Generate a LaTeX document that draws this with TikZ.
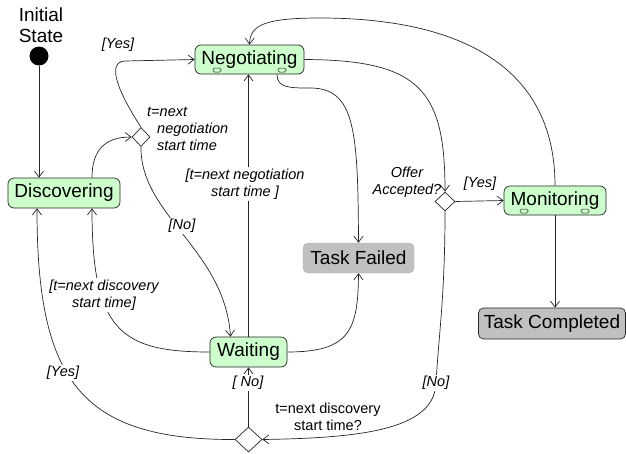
\documentclass[tikz,border=0pt]{standalone}
\usepackage{fontspec}
\setmainfont{Liberation Sans}
\usetikzlibrary{arrows.meta,shapes.geometric}
\definecolor{stategreen}{HTML}{CCFFCC}
\definecolor{finalgray}{HTML}{C0C0C0}
\tikzset{
  statebox/.style={draw=black!85, line width=0.7pt, fill=stategreen, rounded corners=6pt,
    inner sep=0pt, font=\fontsize{19}{21}\selectfont},
  finalbox/.style={fill=finalgray, rounded corners=5pt, inner sep=0pt,
    font=\fontsize{19}{21}\selectfont},
  decision/.style={diamond, draw=black!85, line width=0.7pt, fill=white, inner sep=0pt},
  oval/.style={draw=black!85, line width=0.5pt, fill=stategreen, rounded corners=1.5pt,
    minimum width=8pt, minimum height=4pt, inner sep=0pt},
  flow/.style={draw=black!85, line width=0.7pt, -{Straight Barb[length=6pt,width=9pt]}},
  guard/.style={font=\fontsize{14.5}{17}\selectfont\itshape, inner sep=1pt},
  guardbg/.style={guard, fill=white},
}
\begin{document}
\begin{tikzpicture}[x=1pt,y=-1pt]
\useasboundingbox (0,0) rectangle (626,453);

% nodes
\node[font=\fontsize{19}{21}\selectfont, align=center] (initlabel) at (41,25) {Initial\\State};
\node[circle, fill=black, minimum size=19pt, inner sep=0pt] (init) at (39,56) {};

\node[statebox, minimum width=112pt, minimum height=30pt] (disc) at (64,193) {Discovering};
\node[statebox, minimum width=109pt, minimum height=29pt] (neg) at (249.5,59.5) {Negotiating};
\node[statebox, minimum width=102pt, minimum height=29pt] (mon) at (555,200.5) {Monitoring};
\node[statebox, minimum width=77pt, minimum height=30pt] (wait) at (248.5,352) {Waiting};
\node[finalbox, draw=black!30, minimum width=111pt, minimum height=30pt] (fail) at (358.5,258) {Task Failed};
\node[finalbox, draw=black!85, line width=0.7pt, minimum width=147pt, minimum height=31pt] (comp) at (552,323.5) {Task Completed};

\node[oval] (negA) at (217,70) {};
\node[oval] (negB) at (282,70) {};
\node[oval] (monA) at (524,211) {};
\node[oval] (monB) at (585,211) {};

\node[decision, minimum width=18pt, minimum height=19pt] (d1) at (141,137) {};
\node[decision, minimum width=20pt, minimum height=19pt] (d2) at (445,201.5) {};
\node[decision, minimum width=27pt, minimum height=25pt] (d3) at (248.5,439.5) {};

% connectors
\draw[flow] (init) -- (init |- disc.north);
\draw[flow] ([xshift=28pt]disc.north) .. controls (92,150) and (105,137) .. (d1.west);
\draw[flow] (d1.north) .. controls (120,95) and (105,62) .. (125,61) -- (neg.west);
\draw[flow] (d1.south) .. controls (140,215) and (225,250) .. ([xshift=-18pt]wait.north);
\draw[flow] (wait.north) -- (wait.north |- neg.south);
\draw[flow] (wait.west) .. controls (120,352) and (92,330) .. ([xshift=28pt]disc.south);
\draw[flow] (d3.west) .. controls (80,440) and (37,380) .. ([xshift=-27pt]disc.south);
\draw[flow] (d3.north) -- (wait.south);
\draw[flow] (d2.south) .. controls (445,300) and (438,340) .. (436,385)
   .. controls (432,430) and (360,438) .. (d3.east);
\draw[flow] (neg.east) .. controls (420,60) and (445,90) .. (d2.north);
\draw[flow] ([xshift=27.5pt]neg.south) .. controls (277,88) and (290,88) .. (310,88)
   .. controls (355,88) and (358,130) .. (fail.north);
\draw[flow] (wait.east) .. controls (350,352) and (358,330) .. (fail.south);
\draw[flow] (d2.east) -- (mon.west);
\draw[flow] (mon.north) .. controls (555,60) and (450,18) .. (320,18)
   .. controls (265,18) and (250,25) .. (neg.north);
\draw[flow] (mon.south) -- (mon.south |- comp.north);

% labels
\node[guard] (lyes1) at (118,45) {[Yes]};
\node[guard, align=left, anchor=north west] (lneg) at (146,106) {t=next\\\hspace{10pt}negotiation\\\hspace{10pt}start time};
\node[guardbg] (lno1) at (182,226) {[No]};
\node[guardbg, align=center, inner sep=2pt] (lnegt) at (245,184) {[t=next negotiation\\start time ]};
\node[guardbg, align=center, inner sep=2pt] (ldisc) at (104,295) {[t=next discovery\\start time]};
\node[guardbg] (lyes2) at (63,373) {[Yes]};
\node[guardbg] (lno2) at (248,383) {[ No]};
\node[guardbg] (lno3) at (436,383) {[No]};
\node[font=\fontsize{14.5}{17}\selectfont, align=center] (ldq) at (328,417) {t=next discovery\\start time?};
\node[guard, align=center] (loffer) at (407,182) {Offer\\Accepted?};
\node[guard] (lyes3) at (480,184) {[Yes]};
\end{tikzpicture}
\end{document}
